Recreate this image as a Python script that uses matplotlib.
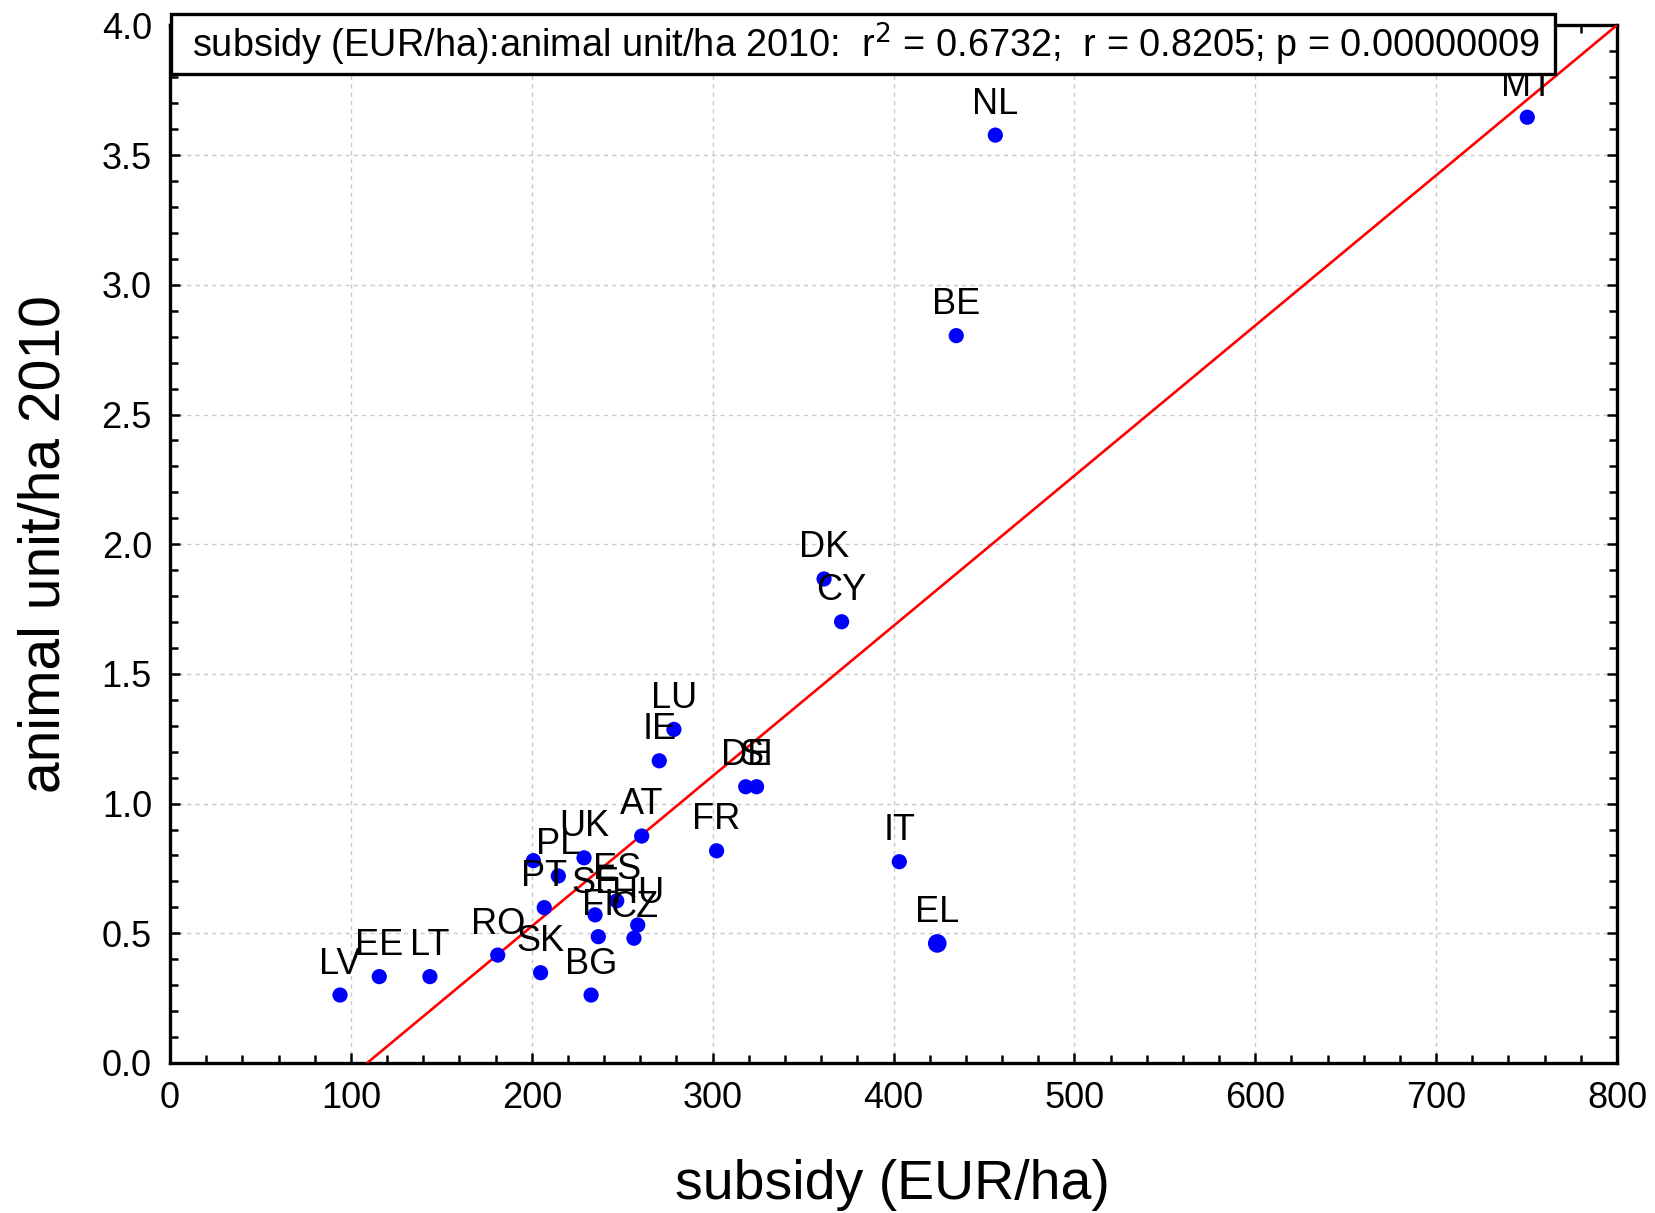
import matplotlib
matplotlib.use("Agg")
import matplotlib.pyplot as plt
from matplotlib.patches import Rectangle
from matplotlib.ticker import MultipleLocator, FormatStrFormatter
import numpy as np

plt.rcParams['font.family'] = ['Liberation Sans', 'DejaVu Sans']

countries = ['LV', 'EE', 'LT', 'RO', 'SK', 'BG', '', 'UK', 'PL', 'AT', 'PT',
             'ES', 'SE', 'HU', 'CZ', 'FI', 'NL', 'MT', 'BE', 'DK', 'CY', 'LU',
             'IE', 'DE', 'SI', 'FR', 'IT', 'EL']
subsidy = [94.0, 115.7, 143.7, 181.2, 204.9, 232.8, 200.9, 228.9, 214.7, 260.8, 206.9,
           247.0, 235.0, 258.6, 256.5, 236.8, 456.3, 750.4, 434.7, 361.6, 371.3, 278.6,
           270.5, 318.3, 324.3, 302.2, 403.2, 424.2]
animal_units = [0.262, 0.333, 0.333, 0.416, 0.348, 0.262, 0.780, 0.791, 0.721, 0.875, 0.599,
                0.625, 0.571, 0.532, 0.481, 0.487, 3.577, 3.646, 2.804, 1.866, 1.701, 1.286,
                1.165, 1.065, 1.065, 0.818, 0.776, 0.461]
marker_sizes = [120] * 27 + [180]

fit_intercept = -0.631
fit_slope = 0.00579
x_ticks = [0, 100, 200, 300, 400, 500, 600, 700, 800]
y_ticks = [0.0, 0.5, 1.0, 1.5, 2.0, 2.5, 3.0, 3.5, 4.0]
stats_text = "subsidy (EUR/ha):animal unit/ha 2010:  r$^2$ = 0.6732;  r = 0.8205; p = 0.00000009"

fig = plt.figure(figsize=(16.55, 12.13), dpi=100)
ax = fig.add_axes([170/1655, 1-1063/1213, (1617-170)/1655, (1063-25.4)/1213])

ax.set_xlim(0, 800)
ax.set_ylim(0, 4.0)
ax.set_xticks(x_ticks)
ax.set_yticks(y_ticks)
ax.yaxis.set_major_formatter(FormatStrFormatter('%.1f'))
ax.xaxis.set_minor_locator(MultipleLocator(20))
ax.yaxis.set_minor_locator(MultipleLocator(0.1))
ax.tick_params(which='both', direction='in', top=True, right=True, width=1.8, color='black')
ax.tick_params(which='major', length=7.5, labelsize=26, pad=13)
ax.tick_params(which='minor', length=6)
for s in ax.spines.values():
    s.set_linewidth(2.4)
    s.set_color('black')
ax.grid(True, which='major', color='#c8c8c8', linestyle=(0, (3, 3)), linewidth=1.0)
ax.set_axisbelow(True)

xl = np.array([0, 800])
ax.plot(xl, fit_intercept + fit_slope * xl, color='red', linewidth=1.9, zorder=3)

ax.scatter(subsidy, animal_units, s=marker_sizes, color='#0000ff', edgecolors='none', zorder=4)
for c, x, y in zip(countries, subsidy, animal_units):
    ax.annotate(c, (x, y), xytext=(0, 15.5), textcoords='offset points',
                ha='center', va='baseline', fontsize=26, color='black', zorder=5)

rect = Rectangle((171/1655, 1-74/1213), (1555-171)/1655, 60/1213, transform=fig.transFigure,
                 facecolor='white', edgecolor='black', linewidth=2.4, zorder=10)
fig.add_artist(rect)
fig.text(866/1655, 1-44/1213, stats_text, ha='center', va='center', fontsize=27.3, zorder=11)

fig.text(892/1655, 1-1185/1213, 'subsidy (EUR/ha)', ha='center', va='center', fontsize=40)
fig.text(45/1655, 1-543.6/1213, 'animal unit/ha 2010', ha='center', va='center',
         rotation=90, fontsize=41)

fig.savefig('out.png', dpi=100)
